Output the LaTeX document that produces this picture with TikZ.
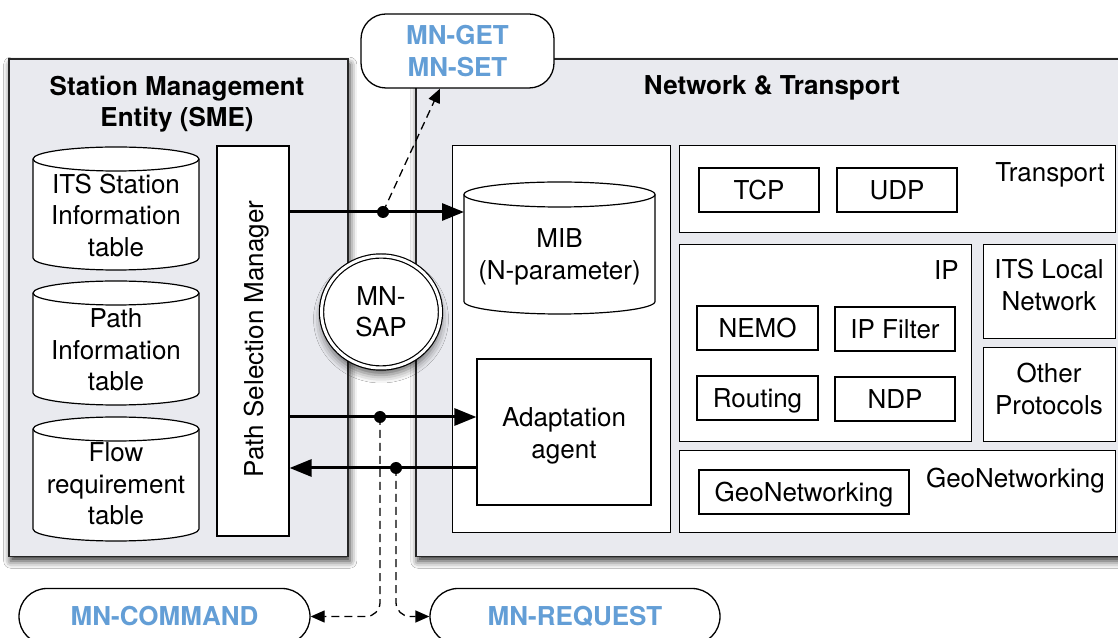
\documentclass[tikz,border=0pt]{standalone}
\usepackage{fontspec}
\setmainfont{TeX Gyre Heros}
\usetikzlibrary{arrows.meta,shadows.blur,shapes.geometric}
\definecolor{grayfill}{RGB}{233,234,239}
\definecolor{mnblue}{RGB}{99,158,214}
\newcommand\mydrum[5]{% x1, x2, top, bottom, ry
  \pgfmathsetmacro\drumrx{(#2-#1)/2}%
  \filldraw[fill=white, line width=1.2pt] (#1,#3-#5) -- (#1,#4+#5)
    arc[start angle=180,end angle=360,x radius=\drumrx pt,y radius=#5pt] -- (#2,#3-#5)
    arc[start angle=0,end angle=180,x radius=\drumrx pt,y radius=#5pt] -- cycle;
  \draw[line width=1.2pt] (#1,#3-#5) arc[start angle=180,end angle=360,x radius=\drumrx pt,y radius=#5pt];
}
\tikzset{
  txt/.style={font=\fontsize{26}{31.5}\selectfont, align=center, inner sep=0pt},
  one/.style={text height=18.7pt, text depth=0pt},
  frame/.style={draw, line width=1.2pt, fill=white, inner sep=0pt},
  box/.style={txt, one, frame},
  layer/.style={draw=black!85, line width=1.5pt, fill=grayfill, inner sep=0pt,
    blur shadow={shadow xshift=2pt, shadow yshift=-5pt, shadow blur radius=7pt, shadow opacity=80}},
  ttl/.style={txt, font=\bfseries\fontsize{26}{31.5}\selectfont},
  mn/.style={txt, draw, line width=1.3pt, fill=white, text=mnblue, font=\bfseries\fontsize{26}{31.5}\selectfont},
  flow/.style={line width=3pt, -{Triangle[length=22pt,width=17pt]}},
  sig/.style={line width=1.3pt, dash pattern=on 8pt off 5pt, -{Triangle[length=14pt,width=12pt]}},
  dot/.style={circle, fill=black, inner sep=0pt, minimum size=12pt},
}
\begin{document}
\begin{tikzpicture}[x=1pt,y=1pt]
\clip (0,0) rectangle (1118,637);
\fill[white] (0,0) rectangle (1118,637);

% layers
\node[layer, anchor=south west, minimum width=339, minimum height=497] (sme) at (8,80) {};
\node[layer, anchor=south west, minimum width=720, minimum height=497] (nt) at (415,80) {};
\node[ttl] (smet) at (177,533) {Station Management\\Entity (SME)};
\node[ttl, anchor=base] (ntt) at (772,542) {Network \& Transport};

% SME content
\mydrum{33}{199}{490}{367}{12}
\node[txt] (itst) at (116,422) {ITS Station\\Information\\table};
\mydrum{33}{199}{356}{232}{12}
\node[txt] (patht) at (116,287) {Path\\Information\\table};
\mydrum{33}{199}{220}{96}{12}
\node[txt] (flowt) at (116,153) {Flow\\requirement\\table};
\node[frame, minimum width=72, minimum height=390] (psm) at (253,296) {};
\node[txt, one, rotate=90] (psmt) at (254,298) {Path Selection Manager};

% inner management part
\node[frame, anchor=south west, minimum width=218, minimum height=387] (inner) at (452,104) {};
\mydrum{464}{655}{455}{323}{12.5}
\node[txt] (mib) at (559.5,380) {MIB\\(N-parameter)};
\node[frame, minimum width=174, minimum height=146] (aa) at (564,205) {};
\node[txt] (aat) at (564,201) {Adaptation\\agent};

% Transport
\node[frame, anchor=south west, minimum width=436, minimum height=87] (tr) at (679,404) {};
\node[txt, anchor=base east] (trl) at (1105,455) {Transport};
\node[box, minimum width=120, minimum height=44] (tcp) at (759,447) {TCP};
\node[box, minimum width=120, minimum height=44] (udp) at (897,447) {UDP};

% IP
\node[frame, anchor=south west, minimum width=292, minimum height=197] (ip) at (679,195) {};
\node[txt, anchor=base east] (ipl) at (959,357) {IP};
\node[box, minimum width=121, minimum height=44] (nemo) at (757.5,309) {NEMO};
\node[box, minimum width=120, minimum height=44] (ipf) at (895,308) {IP Filter};
\node[box, minimum width=121, minimum height=44] (rout) at (757.5,239) {Routing};
\node[box, minimum width=120, minimum height=44] (ndp) at (895,238) {NDP};

\node[frame, anchor=south west, minimum width=132, minimum height=94] (itsl) at (983,298) {};
\node[txt] (itslt) at (1049,352) {ITS Local\\Network};
\node[frame, anchor=south west, minimum width=132, minimum height=94] (oth) at (983,195) {};
\node[txt] (otht) at (1049,248) {Other\\Protocols};

% GeoNetworking
\node[frame, anchor=south west, minimum width=436, minimum height=82] (gn) at (679,104) {};
\node[txt, anchor=base east] (gnl) at (1105,149) {GeoNetworking};
\node[box, minimum width=210, minimum height=44] (gni) at (804,145) {GeoNetworking};

% SAP and primitives
\node[mn, minimum width=193, minimum height=74, rounded corners=25pt] (mnget) at (457.5,586) {MN-GET\\MN-SET};
\node[txt, ellipse, draw, line width=1.2pt, double, double distance=3pt, fill=white,
  minimum width=119pt, minimum height=112pt,
  blur shadow={shadow xshift=0pt, shadow yshift=-7pt, shadow blur radius=8pt, shadow opacity=60}] (sap) at (381,325) {MN-\\SAP};
\node[mn, one, minimum width=291, minimum height=56, rounded corners=28pt] (mnc) at (164.5,20.5) {MN-COMMAND};
\node[mn, one, minimum width=290, minimum height=56, rounded corners=28pt] (mnr) at (575,20.5) {MN-REQUEST};

% flows
\coordinate (r1) at (0,425);
\coordinate (r2) at (0,220);
\coordinate (r3) at (0,169);
\coordinate (mibin) at (464,425);
\draw[flow] (psm.east |- r1) -- (mibin);
\draw[flow] (psm.east |- r2) -- (aa.west |- r2);
\draw[flow] (aa.west |- r3) -- (psm.east |- r3);

\node[dot] (d1) at (383,425) {};
\node[dot] (d2) at (380,220) {};
\node[dot] (d3) at (396,169) {};

\draw[sig] (d1.center) -- ([xshift=-17.5pt]mnget.south);
\draw[sig, rounded corners=14pt] (d2.center) |- (mnc.east);
\draw[sig, rounded corners=14pt] (d3.center) |- (mnr.west);
\end{tikzpicture}
\end{document}
